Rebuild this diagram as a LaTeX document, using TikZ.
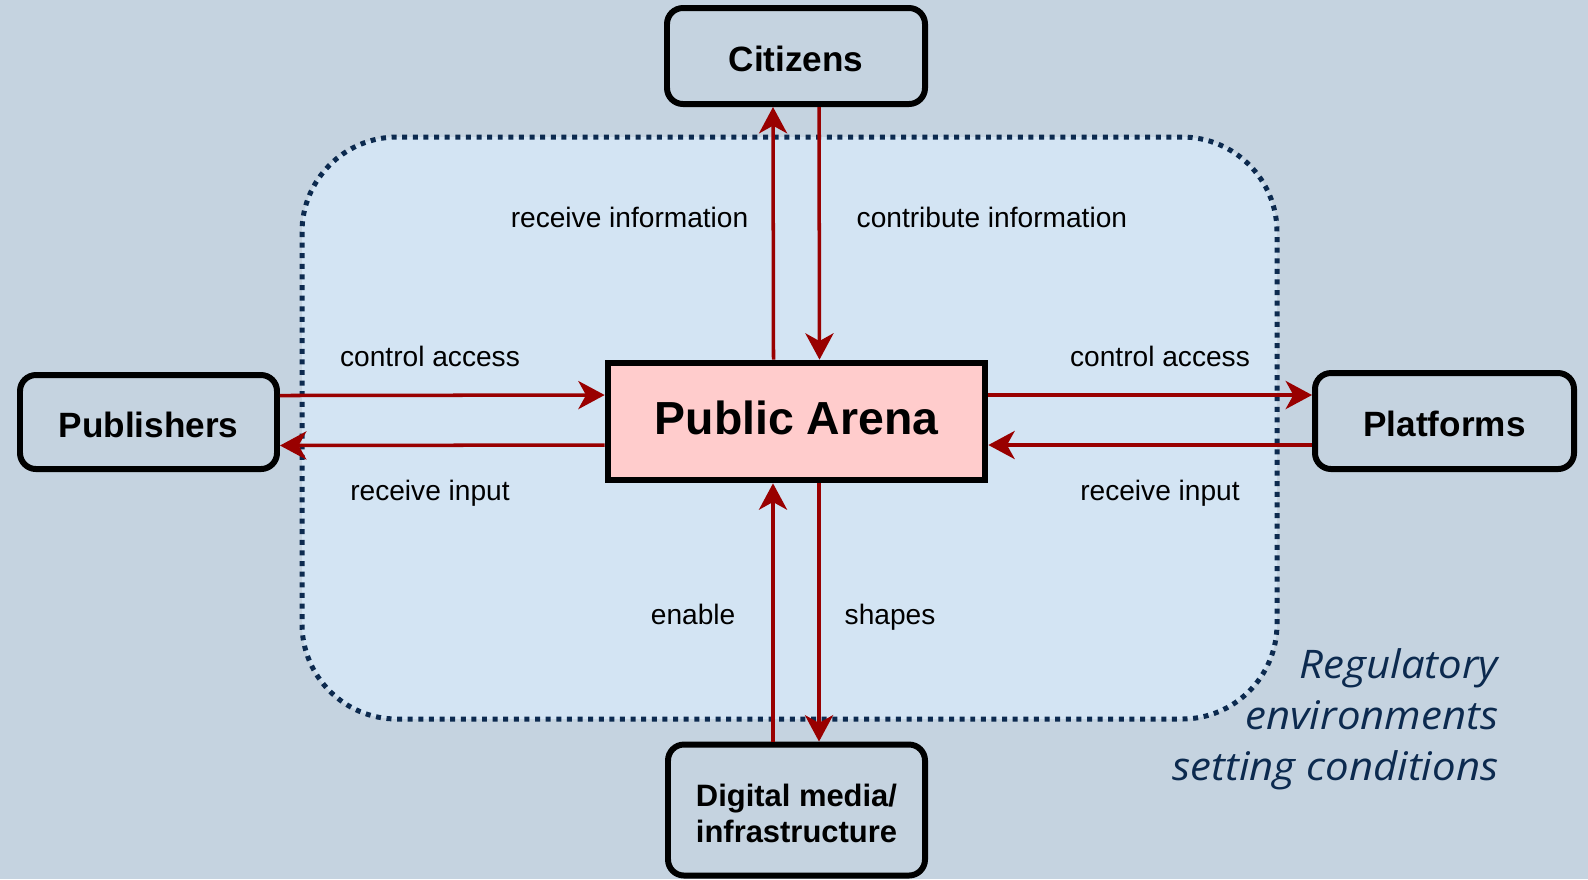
\documentclass[tikz,border=0pt]{standalone}
\usepackage{fontspec}
\setmainfont{Liberation Sans}
\newfontfamily\regfont[FakeStretch=1.065]{Open Sans}
\usetikzlibrary{arrows.meta}
\definecolor{bgblue}{HTML}{C5D3E0}
\definecolor{arenablue}{HTML}{D3E4F3}
\definecolor{arenapink}{HTML}{FFCCCC}
\definecolor{arrowred}{HTML}{990000}
\definecolor{navy}{HTML}{0C2A4F}
\begin{document}
\begin{tikzpicture}
      \tikzset{actor/.style={draw=black, line width=1.7pt, rounded corners=0.16cm, fill=bgblue,
          font=\bfseries\fontsize{10}{12}\selectfont, align=center, inner sep=0pt},
        flow/.style={draw=arrowred, line width=1pt, -{Stealth[length=7.5pt, width=8pt, inset=2.2pt]}},
        lbl/.style={font=\fontsize{8}{10}\selectfont, inner sep=0pt, text height=6pt, text depth=1.7pt}}
      \path[use as bounding box, fill=bgblue] (0,0) rectangle (15.88,-8.79);
      % the arena of public discourse
      \draw[navy, fill=arenablue, line width=1.42pt, dash pattern=on 1.42pt off 1.6pt, rounded corners=0.95cm]
        (3.02,-1.37) rectangle (12.77,-7.19);

      \node[draw=black, line width=1.9pt, fill=arenapink, minimum width=3.77cm, minimum height=1.17cm,
        text depth=2.3pt, font=\bfseries\fontsize{13.2}{15}\selectfont] (arena) at (7.965,-4.215) {Public Arena};
      \node[actor, minimum width=2.58cm, minimum height=0.96cm, text height=9pt] (citizens) at (7.96,-0.56) {Citizens};
      \node[actor, minimum width=2.57cm, minimum height=0.94cm, text height=9pt] (publishers) at (1.485,-4.22) {Publishers};
      \node[actor, minimum width=2.59cm, minimum height=0.96cm, text height=9pt] (platforms) at (14.445,-4.21) {Platforms};
      \node[actor, minimum width=2.57cm, minimum height=1.31cm, text height=18.6pt, text depth=0pt,
        font=\bfseries\fontsize{8.8}{10.2}\selectfont] (digital) at (7.965,-8.10) {Digital media/\\infrastructure};

      % connectors
      \draw[flow] ([xshift=-0.23cm]arena.north) -- ([xshift=-0.23cm]citizens.south);
      \draw[flow] ([xshift=0.23cm]citizens.south) -- ([xshift=0.23cm]arena.north);
      \draw[flow] ([yshift=0.265cm]publishers.east) -- ([yshift=0.265cm]arena.west);
      \draw[flow] ([yshift=-0.235cm]arena.west) -- ([yshift=-0.235cm]publishers.east);
      \draw[flow] ([yshift=0.265cm]arena.east) -- ([yshift=0.265cm]platforms.west |- arena.east);
      \draw[flow] ([yshift=-0.235cm]platforms.west |- arena.east) -- ([yshift=-0.235cm]arena.east);
      \draw[flow] ([xshift=-0.235cm]digital.north) -- ([xshift=-0.235cm]arena.south);
      \draw[flow] ([xshift=0.225cm]arena.south) -- ([xshift=0.225cm]digital.north);

      % labels
      \node[lbl, anchor=east] (recinfo) at (7.49,-2.20) {receive information};
      \node[lbl, anchor=west] (continfo) at (8.56,-2.20) {contribute information};
      \node[lbl] (ctrlpub) at (4.30,-3.59) {control access};
      \node[lbl] (recpub) at (4.30,-4.93) {receive input};
      \node[lbl] (ctrlplat) at (11.60,-3.59) {control access};
      \node[lbl] (recplat) at (11.60,-4.93) {receive input};
      \node[lbl, anchor=east] (enable) at (7.36,-6.17) {enable};
      \node[lbl, anchor=west] (shapes) at (8.44,-6.17) {shapes};

      \node[navy, anchor=north east, align=right, inner sep=0pt,
        font=\regfont\itshape\fontsize{11.2}{14.5}\selectfont] (regulatory) at (14.99,-6.48)
        {Regulatory\\environments\\setting conditions};
    \end{tikzpicture}
\end{document}
